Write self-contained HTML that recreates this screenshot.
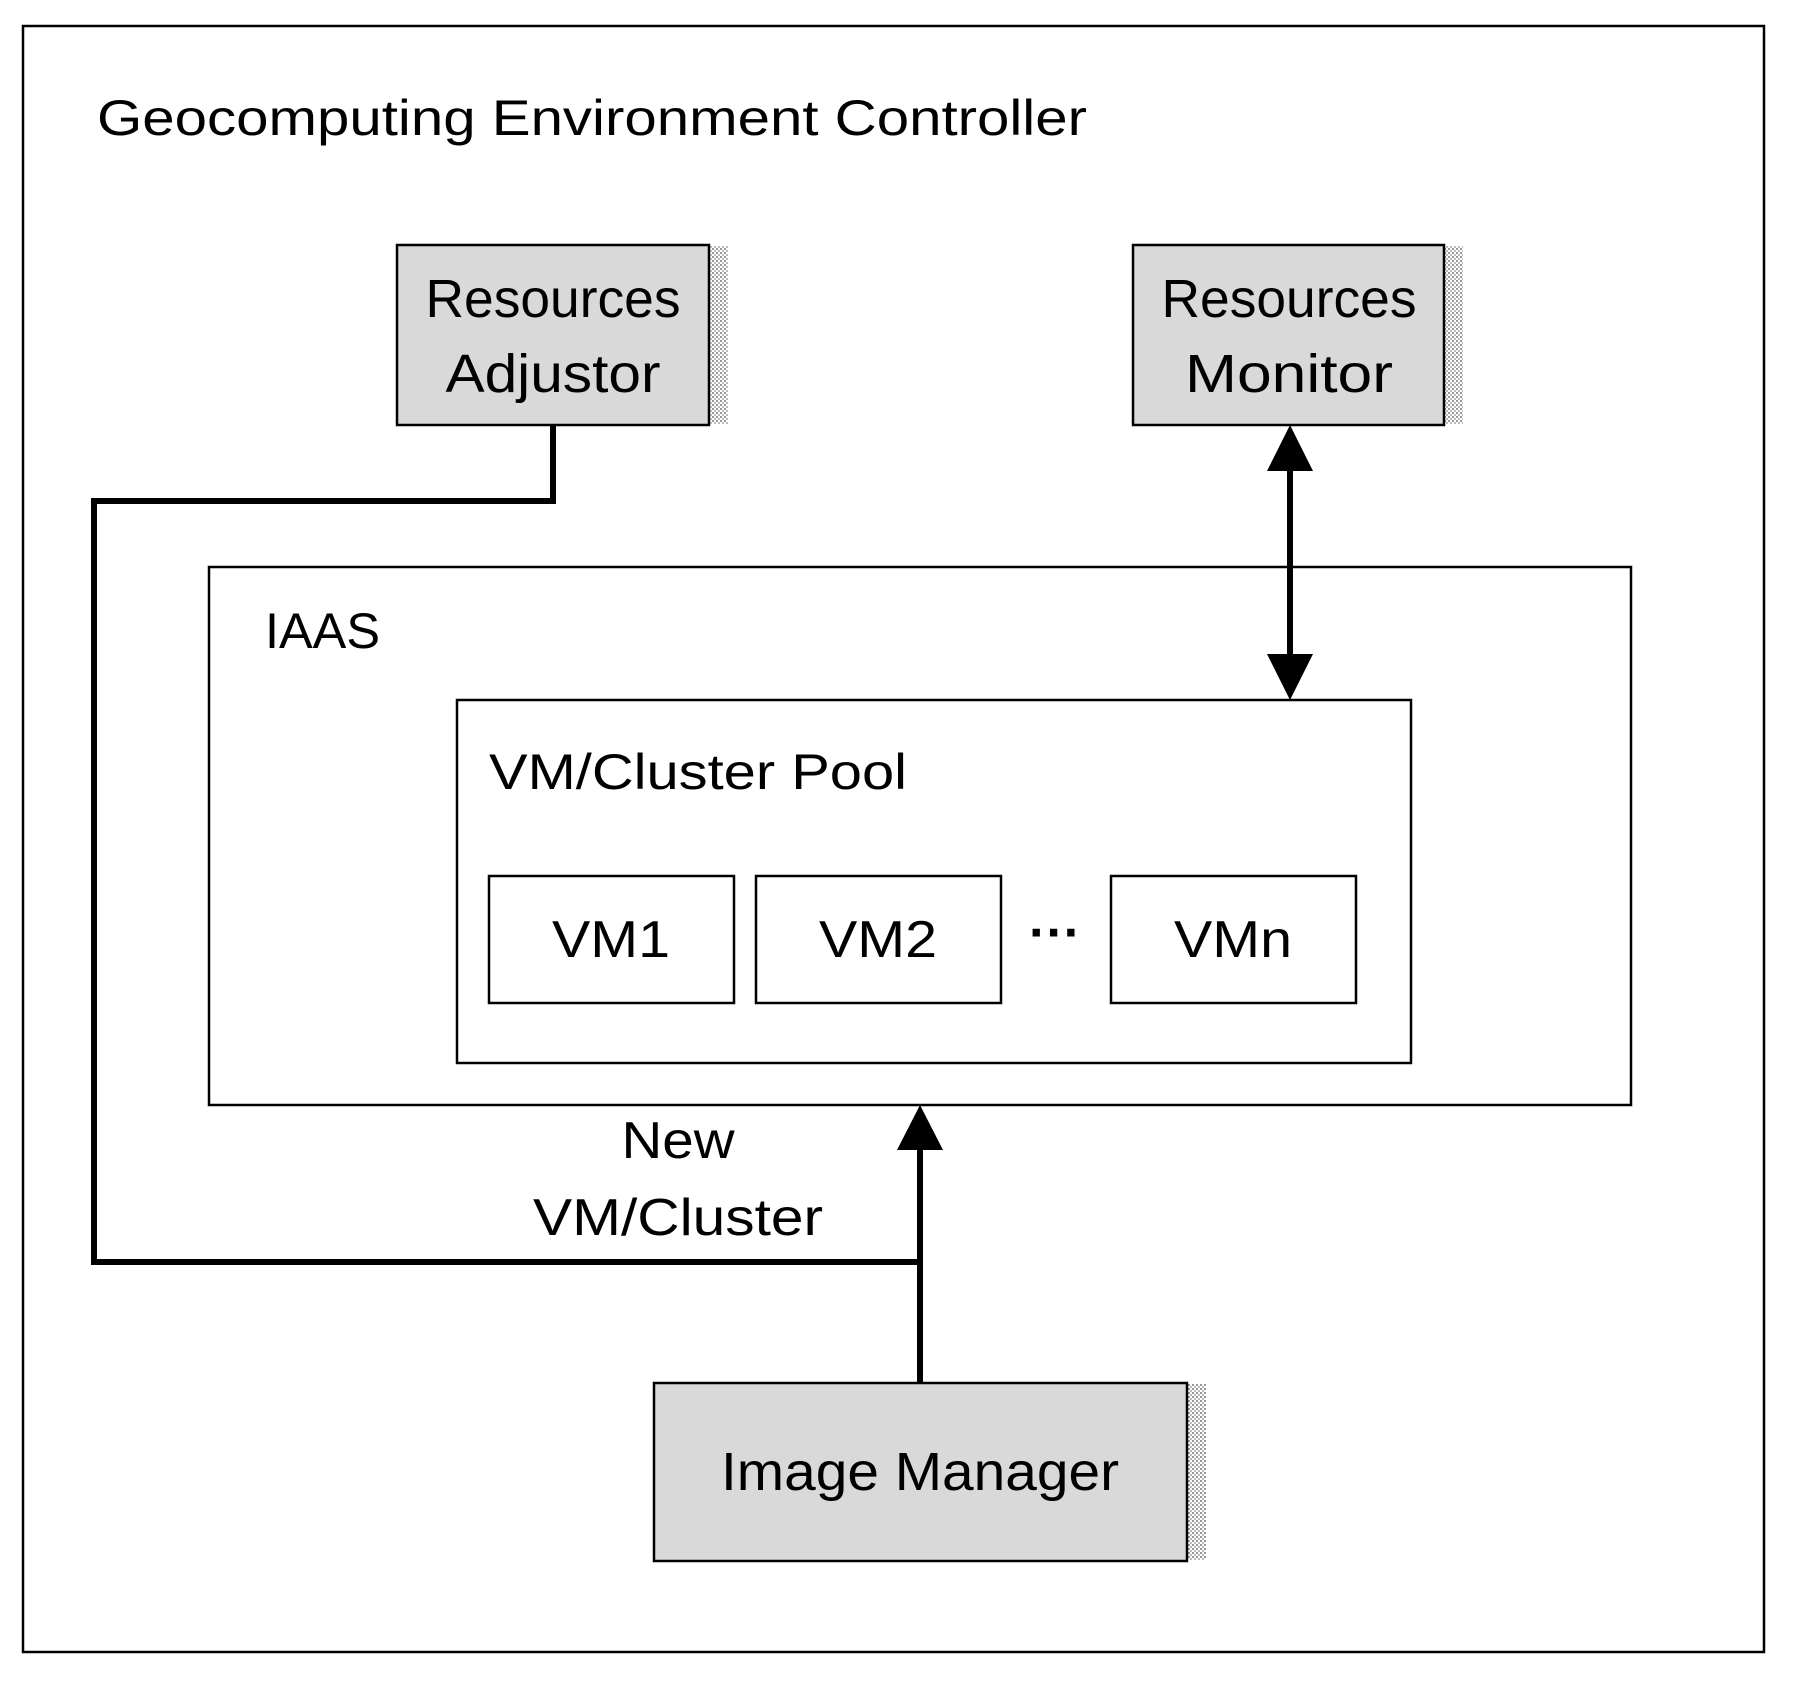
<!DOCTYPE html>
<html><head><meta charset="utf-8"><style>html,body{margin:0;padding:0;background:#fff}svg{display:block}</style></head>
<body>
<svg width="1793" height="1683" viewBox="0 0 1793 1683" xmlns="http://www.w3.org/2000/svg" font-family="Liberation Sans, sans-serif" fill="#000">
<defs>
<pattern id="dots" width="4" height="4" patternUnits="userSpaceOnUse"><rect width="4" height="4" fill="#fff"/><rect width="2" height="2" fill="#999"/><rect x="2" y="2" width="2" height="2" fill="#bbb"/></pattern>
</defs>
<rect x="23" y="26" width="1741" height="1626" fill="none" stroke="#000" stroke-width="2.5"/>
<text x="97" y="135" font-size="50" textLength="990" lengthAdjust="spacingAndGlyphs">Geocomputing Environment Controller</text>

<rect x="709" y="246" width="19" height="178" fill="url(#dots)"/>
<rect x="397" y="245" width="312" height="180" fill="#d9d9d9" stroke="#000" stroke-width="2.5"/>
<text x="553" y="317" font-size="54" text-anchor="middle" textLength="255" lengthAdjust="spacingAndGlyphs">Resources</text>
<text x="553" y="392" font-size="54" text-anchor="middle" textLength="215" lengthAdjust="spacingAndGlyphs">Adjustor</text>

<rect x="1444" y="246" width="19" height="178" fill="url(#dots)"/>
<rect x="1133" y="245" width="311" height="180" fill="#d9d9d9" stroke="#000" stroke-width="2.5"/>
<text x="1289" y="317" font-size="54" text-anchor="middle" textLength="255" lengthAdjust="spacingAndGlyphs">Resources</text>
<text x="1289" y="392" font-size="54" text-anchor="middle" textLength="208" lengthAdjust="spacingAndGlyphs">Monitor</text>

<rect x="209" y="567" width="1422" height="538" fill="none" stroke="#000" stroke-width="2.5"/>
<text x="265" y="648" font-size="50" textLength="115" lengthAdjust="spacingAndGlyphs">IAAS</text>

<rect x="457" y="700" width="954" height="363" fill="none" stroke="#000" stroke-width="2.5"/>
<text x="489" y="789" font-size="50" textLength="418" lengthAdjust="spacingAndGlyphs">VM/Cluster Pool</text>

<rect x="489" y="876" width="245" height="127" fill="none" stroke="#000" stroke-width="2.5"/>
<text x="611" y="957" font-size="52" text-anchor="middle" textLength="118" lengthAdjust="spacingAndGlyphs">VM1</text>
<rect x="756" y="876" width="245" height="127" fill="none" stroke="#000" stroke-width="2.5"/>
<text x="878" y="957" font-size="52" text-anchor="middle" textLength="118" lengthAdjust="spacingAndGlyphs">VM2</text>
<text x="1055" y="950" font-size="52" text-anchor="middle" font-weight="bold">···</text>
<rect x="1111" y="876" width="245" height="127" fill="none" stroke="#000" stroke-width="2.5"/>
<text x="1233" y="957" font-size="52" text-anchor="middle" textLength="118" lengthAdjust="spacingAndGlyphs">VMn</text>

<rect x="1187" y="1384" width="19" height="176" fill="url(#dots)"/>
<rect x="654" y="1383" width="533" height="178" fill="#d9d9d9" stroke="#000" stroke-width="2.5"/>
<text x="920" y="1490" font-size="54" text-anchor="middle" textLength="398" lengthAdjust="spacingAndGlyphs">Image Manager</text>

<text x="678" y="1158" font-size="52" text-anchor="middle" textLength="113" lengthAdjust="spacingAndGlyphs">New</text>
<text x="678" y="1235" font-size="52" text-anchor="middle" textLength="290" lengthAdjust="spacingAndGlyphs">VM/Cluster</text>

<polyline points="553,425 553,501 94,501 94,1262 920,1262" fill="none" stroke="#000" stroke-width="6"/>
<line x1="920" y1="1384" x2="920" y2="1145" stroke="#000" stroke-width="6"/>
<polygon points="920,1105 897,1150 943,1150"/>
<line x1="1290" y1="465" x2="1290" y2="660" stroke="#000" stroke-width="6"/>
<polygon points="1290,425 1267,471 1313,471"/>
<polygon points="1290,700 1267,654 1313,654"/>
</svg>
</body></html>
